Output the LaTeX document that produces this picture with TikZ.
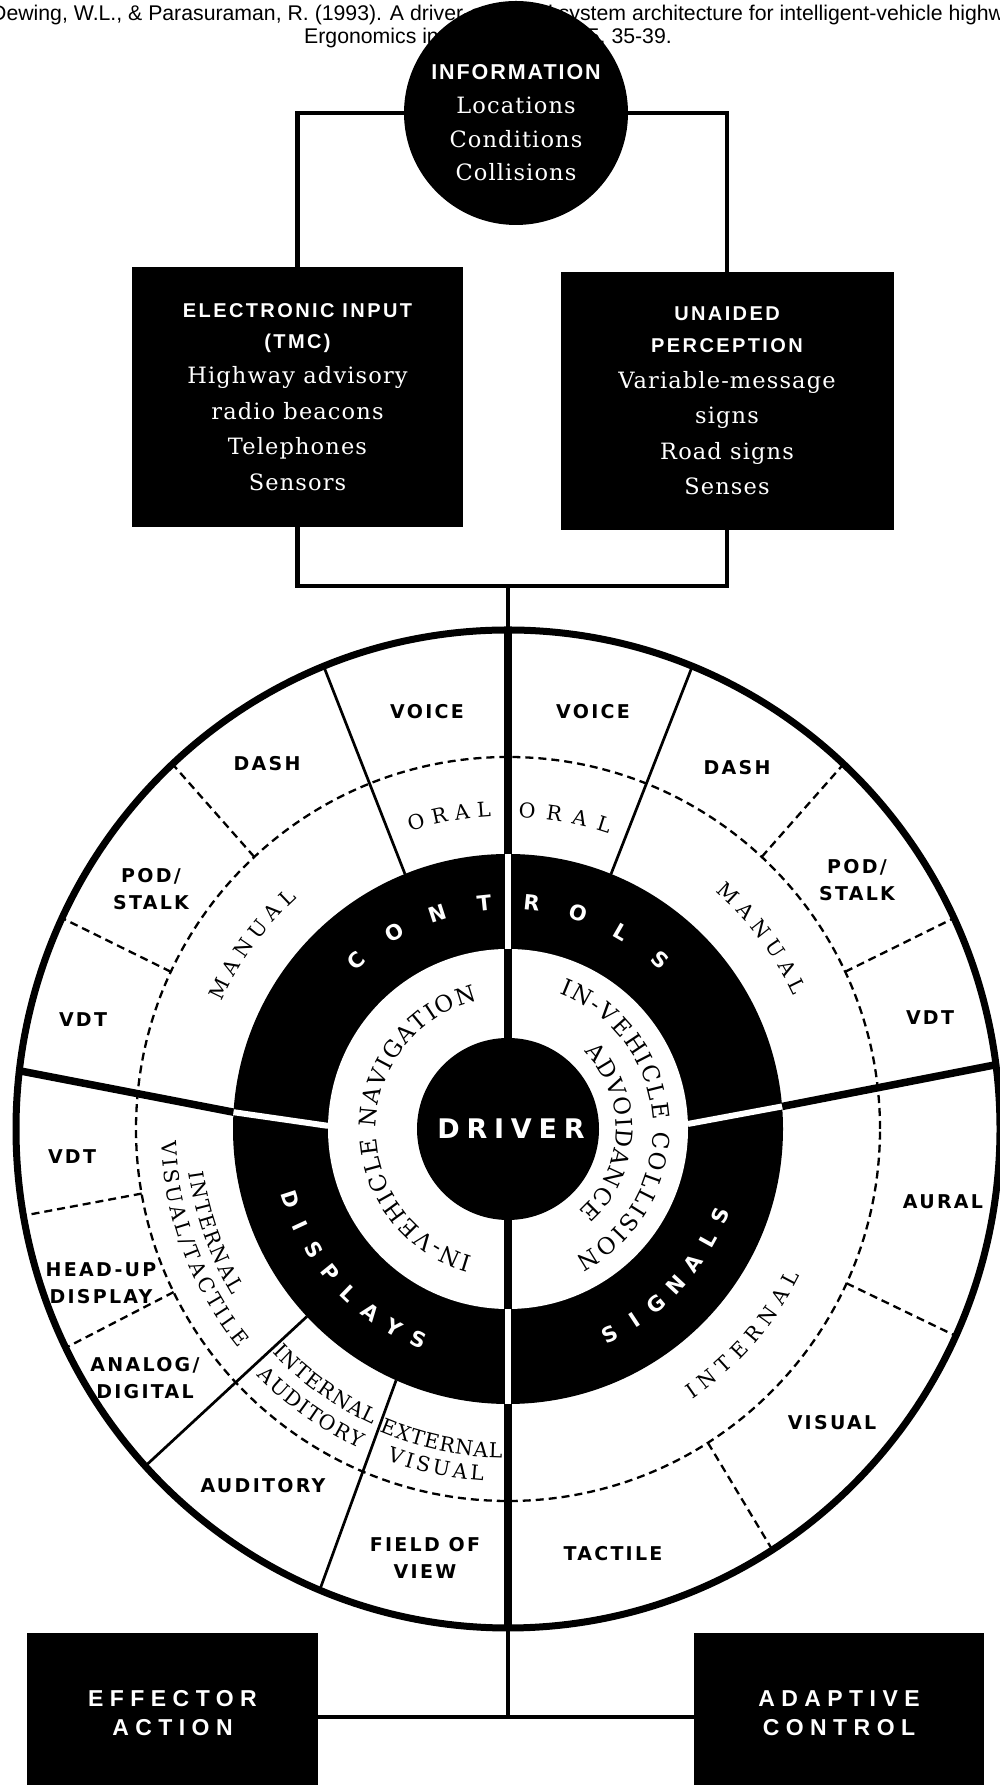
\documentclass[tikz,border=0pt]{standalone}
\usepackage{fontspec}
\usepackage{tikz}
\usetikzlibrary{positioning,decorations.text}

\newfontfamily\citefont{Liberation Sans}
\newfontfamily\headfont{Liberation Sans}[LetterSpace=12]
\newfontfamily\tagfont{DejaVu Sans}[LetterSpace=12]
\newfontfamily\ringfont{DejaVu Sans}
\newfontfamily\bodyfont{DejaVu Serif}[LetterSpace=5]
\newfontfamily\arcfont{DejaVu Serif}

\newcommand{\boxhead}[1]{{\headfont\bfseries\fontsize{20}{20}\selectfont #1}}
\newcommand{\wedgeserif}{\arcfont\fontsize{20.5}{20.5}\selectfont}
\newcommand{\hubserif}{\arcfont\fontsize{23}{23}\selectfont}

\tikzset{
  citeline/.style={font=\citefont\fontsize{21.25}{21.25}\selectfont, inner sep=0pt},
  link/.style={line width=4.5pt},
  srcbox/.style={fill=black, text=white, minimum width=331pt, minimum height=260pt,
    inner sep=0pt, align=center, font=\bodyfont\fontsize{22.5}{35.5}\selectfont},
  endbox/.style={fill=black, text=white, minimum width=291pt, minimum height=160pt,
    inner sep=0pt, align=center,
    font=\headfont\bfseries\addfontfeatures{LetterSpace=28}\fontsize{23}{29}\selectfont},
  wedgetag/.style={font=\tagfont\bfseries\fontsize{19}{27}\selectfont, align=center, inner sep=0pt},
  ringletter/.style={font=\ringfont\bfseries\fontsize{21}{21}\selectfont, text=white, inner sep=0pt},
  dashline/.style={line width=2.3pt, dash pattern=on 8pt off 5pt},
  thinline/.style={line width=2.7pt},
  heavyline/.style={line width=7.5pt},
  gapline/.style={white, line width=6pt},
  arctext/.style={decorate, decoration={text along path, text align={fit to path}, text={|\wedgeserif|#1}}},
  hubtext/.style={decorate, decoration={text along path, text align={fit to path}, text={|\hubserif|#1}}}
}

\begin{document}
\begin{tikzpicture}[x=1pt,y=1pt]
\useasboundingbox (0,0) rectangle (999,1785);

% reference line
\node[citeline, anchor=base west] (cite1) at (-9,1764) {Dewing, W.L., \& Parasuraman, R. (1993). A driver-centered system architecture for intelligent-vehicle highway systems.};
\node[citeline, anchor=base west] (cite2) at (304,1741) {Ergonomics in Design,};
\node[citeline, anchor=base east] (cite3) at (672,1741) {15, 35-39.};

% sources
\node[circle, fill=black, minimum size=224pt, inner sep=0pt] (info) at (516,1672) {};
\node[text=white, align=center, inner sep=0pt, font=\bodyfont\fontsize{22.5}{33.7}\selectfont] (infotxt)
  at ([yshift=-10pt]info.center)
  {{\headfont\bfseries\addfontfeatures{LetterSpace=9}\fontsize{21.5}{21.5}\selectfont INFORMATION}\\Locations\\Conditions\\Collisions};

\node[srcbox] (elec) at (297.5,1388)
  {\boxhead{ELECTRONIC INPUT}\\[-4.5pt]\boxhead{(TMC)}\\Highway advisory\\radio beacons\\Telephones\\Sensors};
\node[srcbox, minimum width=333pt, minimum height=258pt] (unaid) at (727,1384)
  {\boxhead{UNAIDED}\\[-3.5pt]\boxhead{PERCEPTION}\\Variable-message\\signs\\Road signs\\Senses};

% outputs
\node[endbox] (effector) at (172.5,72) {EFFECTOR\\ACTION};
\node[endbox, minimum width=290pt] (adaptive) at (839,72) {ADAPTIVE\\CONTROL};

\coordinate (topjoin) at (508,1199);
\coordinate (hub) at (508,656);
\coordinate (botjoin) at (508,68);

\draw[link] (info.west) -| (elec.north);
\draw[link] (info.east) -| (unaid.north);
\draw[link] (elec.south) |- (topjoin) -| (unaid.south);
\draw[link] (topjoin) -- (botjoin);
\draw[link] (botjoin -| effector.east) -- (botjoin -| adaptive.west);

% the wheel
\begin{scope}[shift={(hub)}]
\fill[white] (0,0) ellipse [x radius=492, y radius=499];
\fill (0,0) circle (275);
\fill[white] (0,0) circle (180);
\fill (0,0) circle (91);
\draw[dashline] (0,0) circle (372);
\foreach \a in {25,47,133,155,190,206,302.5,335.5}
  \draw[dashline] (\a:372) -- (\a:492 and 499);
\foreach \a/\b in {68/68,112/112,223/222.5,246/247.5}
  \draw[thinline] (\a:275) -- (\b:492 and 499);
\draw[heavyline] (90:91) -- (90:499);
\draw[heavyline] (270:91) -- (270:499);
\draw[heavyline] (176.5:275) -- (173.3:492 and 499);
\draw[heavyline] (4.7:275) -- (7.4:492 and 499);
\foreach \a/\b in {90/90,270/270,179/176.5,1.6/4.7}
  \draw[gapline] (\a:180) -- (\b:275);
\draw[line width=7pt] (0,0) ellipse [x radius=492, y radius=499];

\node[text=white, inner sep=0pt, xshift=3pt,
  font=\tagfont\bfseries\addfontfeatures{LetterSpace=25}\fontsize{27}{27}\selectfont] (driver) at (0,0) {DRIVER};

\foreach \ch [count=\i from 0] in {C,O,N,T,R,O,L,S}
  \node[ringletter, rotate={42-12*\i}] (ctl\i) at ({132-12*\i}:227) {\ch};
\foreach \ch [count=\i from 0] in {D,I,S,P,L,A,Y,S}
  \node[ringletter, rotate={288+7*\i}] (dsp\i) at ({198+7*\i}:229) {\ch};
\foreach \ch [count=\i from 0] in {S,I,G,N,A,L,S}
  \node[ringletter, rotate={26.5+6.9*\i}] (sig\i) at ({296.5+6.9*\i}:229) {\ch};

% curved serif words
\path[arctext=ORAL] (108.2:313) arc[start angle=108.2, end angle=93.1, radius=313];
\path[arctext=ORAL] (88.1:312) arc[start angle=88.1, end angle=71.2, radius=312];
\path[arctext=MANUAL] (156:313) arc[start angle=156, end angle=132.4, radius=313];
\path[arctext=MANUAL] (48.8:315) arc[start angle=48.8, end angle=25, radius=315];
\path[arctext=INTERNAL] (187.8:322) arc[start angle=187.8, end angle=211, radius=322];
\path[arctext=VISUAL/TACTILE] (182:347) arc[start angle=182, end angle=219.1, radius=347];
\path[arctext=INTERNAL] (223.5:325) arc[start angle=223.5, end angle=245.5, radius=325];
\path[arctext=AUDITORY] (224.5:352) arc[start angle=224.5, end angle=245, radius=352];
\path[arctext=EXTERNAL] (247:329) arc[start angle=247, end angle=269, radius=329];
\path[arctext=VISUAL] (249.9:353) arc[start angle=249.9, end angle=266, radius=353];
\path[arctext=INTERNAL] (304.3:327) arc[start angle=304.3, end angle=333.3, radius=327];
\path[hubtext=IN-VEHICLE NAVIGATION] (254.6:132) arc[start angle=254.6, end angle=103.4, radius=132];
\path[hubtext=IN-VEHICLE COLLISION] (69.3:145) arc[start angle=69.3, end angle=-62.3, radius=145];
\path[hubtext=ADVOIDANCE] (45.4:108) arc[start angle=45.4, end angle=-49.4, radius=108];
\end{scope}

% wedge names
\node[wedgetag] (voiceL) at (427,1073) {VOICE};
\node[wedgetag] (voiceR) at (593,1073) {VOICE};
\node[wedgetag] (dashL) at (267,1021) {DASH};
\node[wedgetag] (dashR) at (737,1017) {DASH};
\node[wedgetag] (podL) at (151,896) {POD/\\STALK};
\node[wedgetag] (podR) at (857,905) {POD/\\STALK};
\node[wedgetag] (vdtL) at (83,765) {VDT};
\node[wedgetag] (vdtR) at (930,767) {VDT};
\node[wedgetag] (vdtD) at (72,628) {VDT};
\node[wedgetag] (hud) at (101,502) {HEAD-UP\\DISPLAY};
\node[wedgetag] (analog) at (145,407) {ANALOG/\\DIGITAL};
\node[wedgetag] (audit) at (263,299) {AUDITORY};
\node[wedgetag] (field) at (425,227) {FIELD OF\\VIEW};
\node[wedgetag] (aural) at (943,583) {AURAL};
\node[wedgetag] (visual) at (832,362) {VISUAL};
\node[wedgetag] (tactile) at (613,231) {TACTILE};
\end{tikzpicture}
\end{document}
